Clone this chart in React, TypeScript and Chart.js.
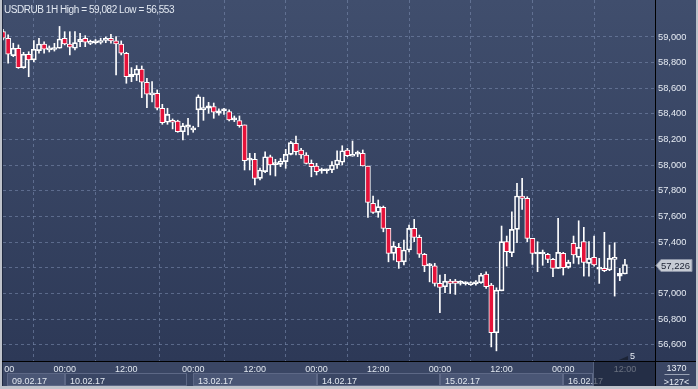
import React, { useEffect, useRef } from 'react';
import { Chart, registerables } from 'chart.js';

Chart.register(...registerables);

// ---- data (USDRUB 1H candles) ----
const opens = [
  59041, 58990, 58854, 58912, 58761, 58865, 58821, 58893, 58945, 58899,
  58902, 58912, 58990, 58945, 58912, 58963, 58990, 58950, 58955, 58957,
  58973, 58990, 58969, 58945, 58873, 58690, 58704, 58750, 58647, 58548,
  58561, 58444, 58335, 58350, 58345, 58261, 58296, 58275, 58431, 58431,
  58444, 58457, 58405, 58425, 58418, 58353, 58348, 58314, 58040, 58046,
  57898, 57950, 58066, 58005, 58007, 58028, 58085, 58171, 58119, 58080,
  58015, 57994, 57955, 57957, 57963, 58002, 58023, 58119, 58070, 58087,
  58093, 57994, 57703, 57633, 57672, 57508, 57313, 57360, 57247, 57339,
  57508, 57438, 57305, 57216, 57216, 57079, 57053, 57097, 57097, 57079,
  57076, 57069, 57074, 57084, 57152, 57066, 56694, 57021, 57404, 57318,
  57500, 57760, 57742, 57430, 57308, 57308, 57305, 57266, 57196, 57313,
  57204, 57391, 57282, 57404, 57235, 57282, 57190, 57196, 57183, 57266,
  57136, 57152,
];
const highs = [
  59060, 59016, 58951, 58938, 58880, 58885, 58971, 58990, 58961, 58930,
  58950, 59082, 59041, 59041, 59041, 59029, 59010, 58975, 58980, 58990,
  59000, 59021, 59002, 58969, 58880, 58761, 58777, 58774, 58678, 58652,
  58587, 58475, 58444, 58361, 58351, 58327, 58366, 58304, 58548, 58530,
  58490, 58485, 58440, 58443, 58431, 58384, 58384, 58314, 58093, 58093,
  57978, 58105, 58079, 58046, 58053, 58124, 58187, 58228, 58132, 58098,
  58041, 58015, 57978, 57970, 58028, 58113, 58152, 58132, 58189, 58111,
  58119, 57994, 57760, 57729, 57682, 57508, 57404, 57391, 57417, 57534,
  57578, 57456, 57313, 57235, 57235, 57144, 57149, 57110, 57110, 57100,
  57092, 57092, 57100, 57157, 57170, 57079, 57045, 57526, 57448, 57637,
  57859, 57898, 57755, 57430, 57404, 57339, 57313, 57274, 57586, 57321,
  57260, 57448, 57567, 57516, 57404, 57448, 57274, 57477, 57378, 57396,
  57196, 57266,
];
const lows = [
  58977, 58795, 58846, 58755, 58755, 58690, 58807, 58873, 58873, 58883,
  58890, 58912, 58938, 58860, 58899, 58924, 58924, 58940, 58945, 58945,
  58955, 58951, 58704, 58860, 58639, 58651, 58660, 58527, 58449, 58493,
  58431, 58319, 58319, 58283, 58257, 58197, 58236, 58257, 58300, 58350,
  58405, 58366, 58390, 58397, 58345, 58340, 58296, 57963, 57963, 57846,
  57885, 57942, 57924, 57916, 57989, 57976, 58080, 58080, 58054, 58010,
  57910, 57924, 57937, 57937, 57942, 57976, 58002, 58067, 58070, 58067,
  57994, 57594, 57625, 57594, 57481, 57247, 57261, 57196, 57222, 57325,
  57404, 57281, 57170, 57091, 57058, 56850, 57006, 57000, 56993, 57066,
  57066, 57063, 57066, 57079, 57040, 56584, 56553, 57021, 57214, 57287,
  57396, 57656, 57404, 57227, 57170, 57220, 57240, 57131, 57196, 57144,
  57196, 57235, 57230, 57136, 57136, 57214, 57079, 57170, 57178, 56980,
  57100, 57152,
];
const closes = [
  58990, 58865, 58912, 58761, 58865, 58821, 58904, 58945, 58904, 58912,
  58912, 58984, 58945, 58920, 58956, 58982, 58959, 58960, 58965, 58970,
  58990, 58969, 58945, 58873, 58690, 58709, 58750, 58647, 58553, 58561,
  58444, 58332, 58397, 58335, 58261, 58308, 58314, 58288, 58534, 58449,
  58464, 58413, 58425, 58430, 58353, 58356, 58309, 58035, 58043, 57898,
  57963, 58066, 58002, 58010, 58033, 58085, 58176, 58106, 58080, 58015,
  57989, 57950, 57957, 57960, 58002, 58041, 58113, 58074, 58085, 58089,
  57994, 57711, 57633, 57677, 57508, 57313, 57370, 57247, 57339, 57508,
  57438, 57307, 57216, 57220, 57079, 57048, 57097, 57079, 57079, 57082,
  57079, 57082, 57092, 57144, 57053, 56694, 57027, 57404, 57326, 57500,
  57760, 57742, 57430, 57313, 57313, 57312, 57266, 57196, 57321, 57201,
  57243, 57300, 57360, 57243, 57274, 57222, 57193, 57178, 57274, 57282,
  57157, 57226,
];

const timeTickIdx = [0, 12, 24, 37, 49, 61, 73, 85, 97, 109, 121];
const timeTickLabels = ['12:00', '00:00', '12:00', '00:00', '12:00', '00:00', '12:00', '00:00', '12:00', '00:00', '12:00'];
const dateLabels = ['09.02.17', '10.02.17', '13.02.17', '14.02.17', '15.02.17', '16.02.17'];
const dateStartIdx = [0, 12, 37, 61, 85, 109];
const priceTicks = [56600, 56800, 57000, 57200, 57400, 57600, 57800, 58000, 58200, 58400, 58600, 58800, 59000];
const titleText = 'USDRUB 1H High = 59,082 Low = 56,553';
const lastPrice = 57226;
const lastPriceText = '57,226';
const barsTotal = '1370';
const barsVisible = '>127<';
const markerText = '5';

const RED = '#e5123a';
const FONT = '"Liberation Sans", Arial, Helvetica, sans-serif';

const decor = {
  id: 'decor',
  beforeDraw(chart: any) {
    const { ctx, chartArea: a } = chart;
    const W = chart.width;
    const H = chart.height;
    ctx.save();
    const g = ctx.createLinearGradient(0, 0, 0, a.bottom);
    g.addColorStop(0, '#404e6d');
    g.addColorStop(1, '#2d3957');
    ctx.fillStyle = g;
    ctx.fillRect(0, 0, W, a.bottom);
    ctx.fillStyle = '#3a4664';
    ctx.fillRect(0, a.bottom, W, H - a.bottom);
    ctx.restore();
  },
  afterDraw(chart: any) {
    const { ctx, chartArea: a } = chart;
    const xs = chart.scales.x;
    const ys = chart.scales.y;
    const W = chart.width;
    const H = chart.height;
    const futureX = 593;
    ctx.save();

    // date boxes
    const boxTop = a.bottom + 12;
    for (let i = 0; i < dateLabels.length; i++) {
      const left = i === 0 ? 7 : Math.round(xs.getPixelForValue(dateStartIdx[i]));
      let right = i < dateLabels.length - 1 ? Math.round(xs.getPixelForValue(dateStartIdx[i + 1])) : futureX;
      if (i === 1) right = Math.round(xs.getPixelForValue(35.8));
      if (i % 2 === 0) {
        ctx.fillStyle = '#4a5675';
        ctx.fillRect(left, boxTop, right - left, H - 3 - boxTop);
      }
      ctx.strokeStyle = '#5d6886';
      ctx.lineWidth = 1;
      ctx.strokeRect(left + 0.5, boxTop + 0.5, right - left - 1, H - 3 - boxTop - 1);
      ctx.font = '9px ' + FONT;
      ctx.fillStyle = '#e1e7f0';
      ctx.textAlign = 'left';
      ctx.textBaseline = 'alphabetic';
      ctx.fillText(dateLabels[i], left + 5, H - 5);
    }

    // time labels
    ctx.save();
    ctx.beginPath();
    ctx.rect(4, a.bottom + 1, a.right - 4, 12);
    ctx.clip();
    ctx.font = '9px ' + FONT;
    ctx.textAlign = 'center';
    ctx.textBaseline = 'alphabetic';
    timeTickIdx.forEach((v, i) => {
      const px = xs.getPixelForValue(v);
      ctx.fillStyle = '#e1e7f0';
      ctx.fillText(timeTickLabels[i], px, a.bottom + 11);
    });
    ctx.restore();

    // future shade
    ctx.fillStyle = 'rgba(22,30,50,0.6)';
    ctx.fillRect(futureX, a.bottom + 1, a.right - futureX, H - 3 - a.bottom - 1);
    ctx.fillStyle = '#56627e';
    ctx.fillRect(futureX, a.bottom + 1, 1, H - 3 - a.bottom - 1);

    // borders
    ctx.fillStyle = '#bfc3cb';
    ctx.fillRect(0, 0, 2, H);
    ctx.fillRect(0, H - 3, W, 3);
    ctx.fillRect(W - 2, 0, 2, H);
    ctx.fillStyle = '#1f2940';
    ctx.fillRect(2, 0, 1, H - 3);

    // axis lines
    ctx.fillStyle = '#000000';
    ctx.fillRect(2, a.bottom, W - 4, 1);
    ctx.fillRect(a.right, 0, 1, H - 3);

    // title
    ctx.font = '10px ' + FONT;
    (ctx as any).letterSpacing = '-0.45px';
    ctx.fillStyle = '#e2e8f1';
    ctx.textAlign = 'left';
    ctx.textBaseline = 'alphabetic';
    ctx.fillText(titleText, 4, 12.5);
    (ctx as any).letterSpacing = '0px';

    // marker
    const mx = xs.getPixelForValue(121) + 6;
    ctx.fillStyle = '#1c2436';
    ctx.beginPath();
    ctx.moveTo(mx - 12, a.bottom - 1);
    ctx.lineTo(mx - 3, a.bottom - 1);
    ctx.lineTo(mx - 3, a.bottom - 5);
    ctx.closePath();
    ctx.fill();
    ctx.font = '9px ' + FONT;
    ctx.fillStyle = '#e8edf5';
    ctx.fillText(markerText, mx - 1, a.bottom - 2);

    // bottom-right info box
    const cx = (a.right + W - 2) / 2 + 1;
    ctx.textAlign = 'center';
    ctx.fillStyle = '#e8edf5';
    ctx.fillText(barsTotal, cx, a.bottom + 10);
    ctx.fillStyle = '#9aa3b6';
    ctx.fillRect(cx - 12, a.bottom + 13, 25, 1);
    ctx.fillStyle = '#e8edf5';
    ctx.fillText(barsVisible, cx, H - 4);

    // last price label
    const py = Math.round(ys.getPixelForValue(lastPrice)) + 0.5;
    ctx.fillStyle = '#c6cbd4';
    ctx.strokeStyle = '#8a92a5';
    ctx.beginPath();
    ctx.moveTo(a.right + 1, py);
    ctx.lineTo(a.right + 6, py - 6);
    ctx.lineTo(W - 6, py - 6);
    ctx.lineTo(W - 6, py + 6);
    ctx.lineTo(a.right + 6, py + 6);
    ctx.closePath();
    ctx.fill();
    ctx.stroke();
    ctx.font = '9.5px ' + FONT;
    ctx.fillStyle = '#1b2233';
    ctx.textAlign = 'left';
    ctx.textBaseline = 'middle';
    ctx.fillText(lastPriceText, a.right + 6, py + 0.5);

    ctx.restore();
  },
};

export default function App() {
  const ref = useRef<HTMLCanvasElement>(null);
  useEffect(() => {
    const canvas = ref.current;
    if (!canvas) return;
    const idx = opens.map((_, i) => i);
    const bodyData = idx.map((i) => ({ x: i, y: [opens[i], closes[i]] }));
    const upperData = idx.map((i) => ({ x: i, y: [Math.max(opens[i], closes[i]), highs[i]] }));
    const lowerData = idx.map((i) => ({ x: i, y: [lows[i], Math.min(opens[i], closes[i])] }));
    const bodyColors = idx.map((i) => (closes[i] < opens[i] ? RED : 'rgba(0,0,0,0)'));

    const gridColor = 'rgba(120,136,172,0.6)';
    const chart = new Chart(canvas, {
      type: 'bar',
      data: {
        datasets: [
          {
            label: 'body',
            data: bodyData as any,
            backgroundColor: bodyColors,
            borderColor: '#ffffff',
            borderWidth: 1,
            borderSkipped: false,
            barThickness: 5,
            minBarLength: 2,
            grouped: false,
            clip: 0,
          } as any,
          {
            label: 'upper',
            data: upperData as any,
            backgroundColor: '#ffffff',
            borderWidth: 0,
            barThickness: 1,
            grouped: false,
            clip: 0,
          } as any,
          {
            label: 'lower',
            data: lowerData as any,
            backgroundColor: '#ffffff',
            borderWidth: 0,
            barThickness: 1,
            grouped: false,
            clip: 0,
          } as any,
        ],
      },
      options: {
        animation: false,
        responsive: false,
        maintainAspectRatio: false,
        events: [],
        layout: { padding: { left: 3, top: 0, right: 0, bottom: 0 } },
        plugins: {
          legend: { display: false },
          tooltip: { enabled: false },
          title: { display: false },
        },
        scales: {
          x: {
            type: 'linear',
            min: 0,
            max: 126.85,
            offset: false,
            afterBuildTicks: (s: any) => {
              s.ticks = timeTickIdx.map((v) => ({ value: v }));
            },
            afterFit: (s: any) => {
              s.height = 28;
              s.paddingLeft = 0;
              s.paddingRight = 0;
            },
            ticks: { display: false },
            grid: { color: gridColor, lineWidth: 1, drawTicks: false },
            border: { display: false, dash: [3, 3] },
          },
          y: {
            type: 'linear',
            position: 'right',
            min: 56474,
            max: 59288,
            afterBuildTicks: (s: any) => {
              s.ticks = priceTicks.map((v) => ({ value: v }));
            },
            afterFit: (s: any) => {
              s.width = 43;
              s.paddingTop = 0;
              s.paddingBottom = 0;
            },
            ticks: {
              color: '#e6ebf3',
              font: { family: FONT, size: 9.3 },
              padding: 3,
              callback: (v: any) => Number(v).toLocaleString('en-US'),
            },
            grid: { color: gridColor, lineWidth: 1, drawTicks: false },
            border: { display: false, dash: [3, 3] },
          },
        },
      } as any,
      plugins: [decor],
    });
    return () => chart.destroy();
  }, []);

  return (
    <div style={{ position: 'fixed', left: 0, top: 0, width: 698, height: 389, overflow: 'hidden' }}>
      <canvas ref={ref} width={698} height={389} style={{ display: 'block', width: 698, height: 389 }} />
    </div>
  );
}
